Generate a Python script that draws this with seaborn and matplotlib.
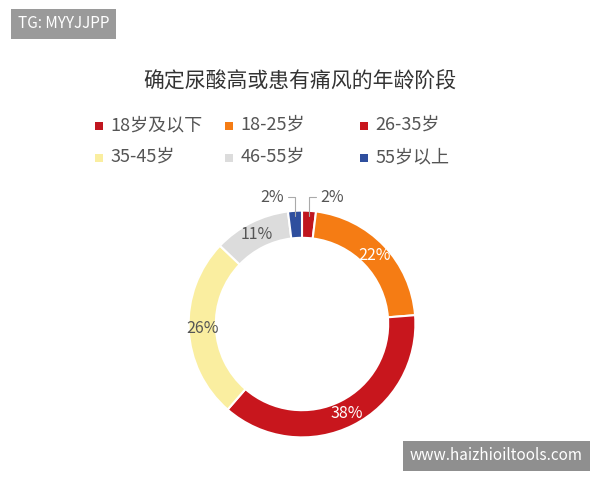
import numpy as np
import matplotlib.pyplot as plt
import seaborn as sns

# data
categories = ['18岁及以下', '18-25岁', '26-35岁', '35-45岁', '46-55岁', '55岁以上']
shares = [2, 22, 38, 26, 11, 2]
pct_labels = ['2%', '22%', '38%', '26%', '11%', '2%']
colors = ['#c0161f', '#f57c14', '#c8161d', '#faeea0', '#dcdcdc', '#2f4f9e']

sns.set_theme(style='white')
plt.rcParams['font.family'] = ['Noto Sans CJK SC', 'DejaVu Sans']

fig = plt.figure(figsize=(6, 4.8), dpi=100)
fig.patch.set_facecolor('white')

ax = fig.add_axes([175 / 600, 29 / 480, 254 / 600, 254 / 480])
wedges, _ = ax.pie(shares, colors=colors, startangle=90, counterclock=False,
                   radius=1.0, wedgeprops=dict(width=0.24, edgecolor='white', linewidth=1.5))
ax.set_xlim(-1.12, 1.12)
ax.set_ylim(-1.12, 1.12)
ax.set_aspect('equal')
ax.axis('off')

text_colors = [None, 'white', 'white', '#555555', '#555555', None]
for w, lab, tc in zip(wedges, pct_labels, text_colors):
    ang = np.deg2rad((w.theta1 + w.theta2) / 2)
    if tc is None:
        continue
    r = 0.88
    ax.text(r * np.cos(ang), r * np.sin(ang), lab, ha='center', va='center',
            fontsize=11.5, color=tc)

# small slices: labels outside with leader lines
for w, lab, side in [(wedges[0], pct_labels[0], 1), (wedges[5], pct_labels[5], -1)]:
    ang = np.deg2rad((w.theta1 + w.theta2) / 2)
    x0, y0 = np.cos(ang) * 0.95, np.sin(ang) * 0.95
    ax.plot([x0, x0, x0 + side * 0.06], [y0, 1.12, 1.12], color='#aaaaaa', lw=0.8, clip_on=False)
    ax.text(x0 + side * 0.1, 1.12, lab, ha='left' if side > 0 else 'right', va='center',
            fontsize=11.5, color='#555555', clip_on=False)

fig.text(0.5, 1 - 82 / 480, '确定尿酸高或患有痛风的年龄阶段', ha='center', va='center',
         fontsize=15, color='#333333')

# legend, two rows of three
xs = [95, 225, 360]
ys = [125, 157]
for i, (cat, col) in enumerate(zip(categories, colors)):
    x = xs[i % 3] / 600
    y = 1 - ys[i // 3] / 480
    fig.patches.append(plt.Rectangle((x, y - 0.011), 0.014, 0.018, transform=fig.transFigure,
                                     facecolor=col, edgecolor='none'))
    fig.text(x + 0.026, y, cat, ha='left', va='center', fontsize=13, color='#555555')

# watermark boxes
fig.text(18 / 600, 1 - 24 / 480, 'TG: MYYJJPP', ha='left', va='center', fontsize=11, color='white',
         bbox=dict(boxstyle='square,pad=0.45', facecolor='#9a9a9a', edgecolor='none'))
fig.text(583 / 600, 1 - 456 / 480, 'www.haizhioiltools.com', ha='right', va='center', fontsize=11,
         color='white', bbox=dict(boxstyle='square,pad=0.45', facecolor='#8f8f8f', edgecolor='none'))

fig.savefig('out.png', dpi=100)
